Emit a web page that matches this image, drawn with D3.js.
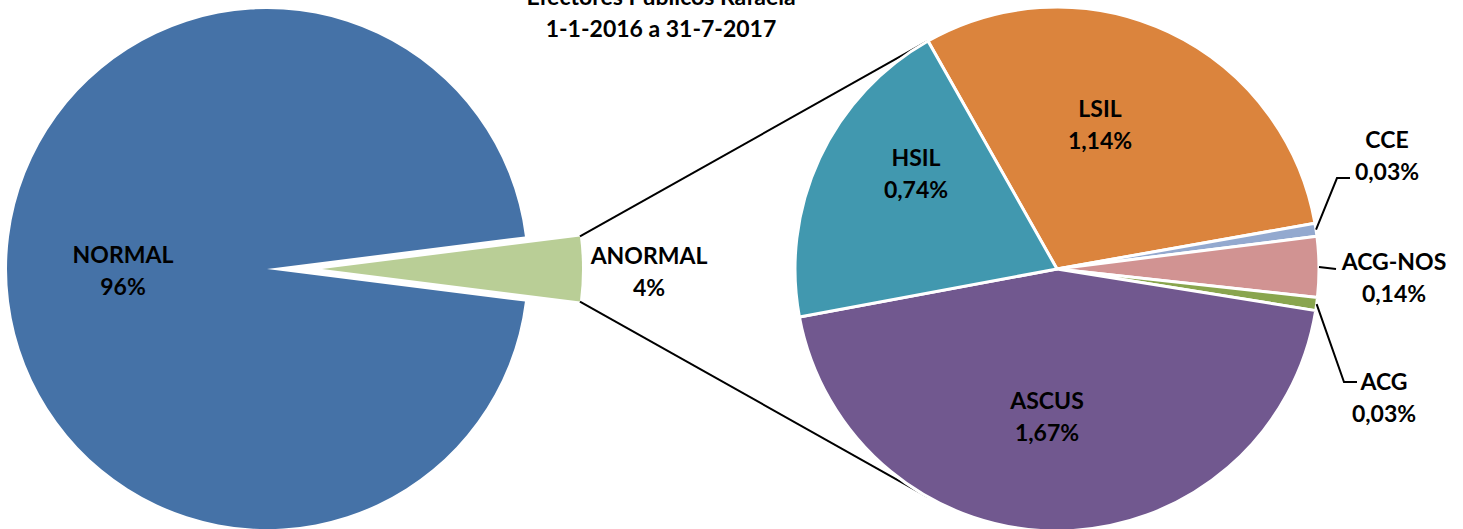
<!DOCTYPE html>
<html>
<head>
<meta charset="utf-8">
<script src="https://cdn.jsdelivr.net/npm/d3@7"></script>
<style>
  html, body { margin: 0; padding: 0; background: #fff; }
  svg { display: block; }
  text { font-family: Lato, "Open Sans", sans-serif; font-weight: bold; fill: #000; }
</style>
</head>
<body>
<svg id="chart" width="1463" height="529"></svg>
<script>
// Main pie: normal vs abnormal results (%)
const mainCategories = ["NORMAL", "ANORMAL"];
const mainValues = [96, 4];
const mainLabels = ["96%", "4%"];

// Breakdown of abnormal results (% of total)
const subCategories = ["LSIL", "CCE", "ACG-NOS", "ACG", "ASCUS", "HSIL"];
const subValues = [1.14, 0.03, 0.14, 0.03, 1.67, 0.74];
const subLabels = ["1,14%", "0,03%", "0,14%", "0,03%", "1,67%", "0,74%"];

const titleLines = ["Efectores Públicos Rafaela", "1-1-2016 a 31-7-2017"];

const mainColors = ["#4572A7", "#B9CE96"];
const subColors = {
  "LSIL": "#DB843D", "CCE": "#93A9CF", "ACG-NOS": "#D19392",
  "ACG": "#89A54E", "ASCUS": "#71588F", "HSIL": "#4198AF"
};

const svg = d3.select("#chart");
const deg = Math.PI / 180;

// ---- main pie ----
const mc = { x: 267, y: 269, r: 260 };
const explode = 55;
const half = mainValues[1] / 100 * Math.PI; // half-angle of abnormal slice
const mainPie = d3.pie().sort(null)
  .startAngle(Math.PI / 2 + half)
  .endAngle(Math.PI / 2 + half + 2 * Math.PI);
const mainArcs = mainPie(mainValues);
const mainArc = d3.arc().innerRadius(0).outerRadius(mc.r);

const gMain = svg.append("g");
mainArcs.forEach((a, i) => {
  const mid = (a.startAngle + a.endAngle) / 2;
  const dx = i === 1 ? explode * Math.sin(mid) : 0;
  const dy = i === 1 ? -explode * Math.cos(mid) : 0;
  gMain.append("path")
    .attr("transform", `translate(${mc.x + dx},${mc.y + dy})`)
    .attr("d", mainArc(a))
    .attr("fill", mainColors[i]);
});

// ---- secondary pie ----
const sc = { x: 1057, y: 269, r: 262 };
const subStart = -29.5 * deg;
const subPie = d3.pie().sort(null)
  .startAngle(subStart).endAngle(subStart + 2 * Math.PI);
const subArcs = subPie(subValues);
const subArc = d3.arc().innerRadius(0).outerRadius(sc.r);

// connector lines between the abnormal slice and the breakdown pie
const ab = mainArcs[1];
const abMid = (ab.startAngle + ab.endAngle) / 2;
const abCx = mc.x + explode * Math.sin(abMid);
const abCy = mc.y - explode * Math.cos(abMid);
const pt = (cx, cy, r, a) => [cx + r * Math.sin(a), cy - r * Math.cos(a)];
const topA = pt(abCx, abCy, mc.r, ab.startAngle);
const botA = pt(abCx, abCy, mc.r, ab.endAngle);
const topB = pt(sc.x, sc.y, sc.r, subStart);
const botB = pt(sc.x, sc.y, sc.r, Math.PI - subStart);
svg.append("line").attr("x1", topA[0]).attr("y1", topA[1]).attr("x2", topB[0]).attr("y2", topB[1])
  .attr("stroke", "#000").attr("stroke-width", 2);
svg.append("line").attr("x1", botA[0]).attr("y1", botA[1]).attr("x2", botB[0]).attr("y2", botB[1])
  .attr("stroke", "#000").attr("stroke-width", 2);

const gSub = svg.append("g").attr("transform", `translate(${sc.x},${sc.y})`);
gSub.selectAll("path").data(subArcs).join("path")
  .attr("d", subArc)
  .attr("fill", (d, i) => subColors[subCategories[i]])
  .attr("stroke", "#fff")
  .attr("stroke-width", 3)
  .attr("stroke-linejoin", "round");

// ---- labels ----
const fs = 23;
function label(x, y, lines) {
  const t = svg.append("text").attr("text-anchor", "middle").attr("font-size", fs);
  lines.forEach((s, i) => t.append("tspan").attr("x", x).attr("y", y + i * 32).text(s));
}

label(123, 263, [mainCategories[0], mainLabels[0]]);
label(649, 264, [mainCategories[1], mainLabels[1]]);

const subLabelPos = {
  "LSIL": [1100, 117], "HSIL": [916, 166], "ASCUS": [1047, 409],
  "CCE": [1387, 148], "ACG-NOS": [1394, 270], "ACG": [1384, 390]
};
subCategories.forEach((c, i) => {
  const p = subLabelPos[c];
  label(p[0], p[1], [c, subLabels[i]]);
});

// leader lines for the thin slices
function leader(i, pts) {
  const a = subArcs[i];
  const mid = (a.startAngle + a.endAngle) / 2;
  const start = pt(sc.x, sc.y, sc.r, mid);
  svg.append("path")
    .attr("d", d3.line()([start, ...pts]))
    .attr("fill", "none").attr("stroke", "#000").attr("stroke-width", 2);
}
leader(1, [[1337, 178], [1350, 178]]);
leader(2, [[1336, 269]]);
leader(3, [[1344, 382], [1357, 382]]);

// ---- title ----
const title = svg.append("text").attr("text-anchor", "middle").attr("font-size", fs);
titleLines.forEach((s, i) => title.append("tspan").attr("x", 661).attr("y", 5 + i * 32).text(s));
</script>
</body>
</html>
